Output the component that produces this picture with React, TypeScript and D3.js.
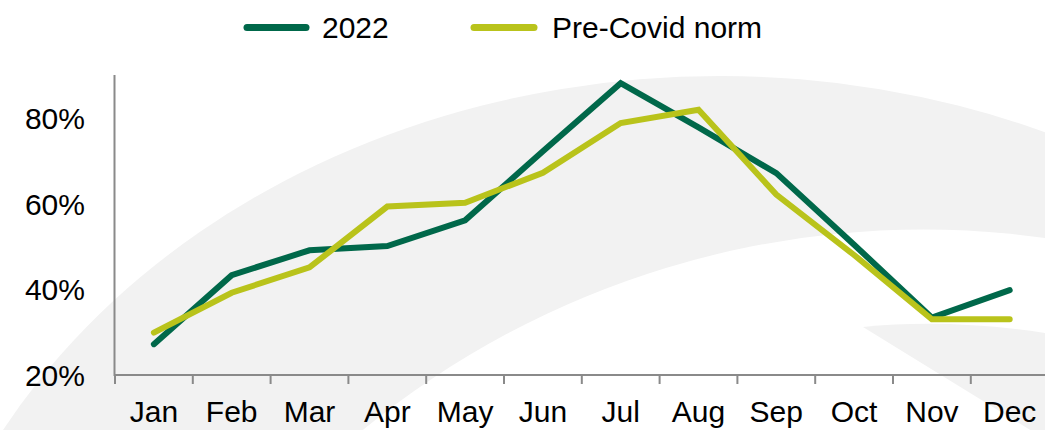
import React from "react";
import * as d3 from "d3";

const months = ["Jan", "Feb", "Mar", "Apr", "May", "Jun", "Jul", "Aug", "Sep", "Oct", "Nov", "Dec"];
const series2022 = [27.2, 43.3, 49.1, 50.1, 56.1, 72.2, 88.1, 77.8, 67.1, 50.4, 33.4, 39.8];
const seriesPreCovid = [29.9, 39.2, 45.1, 59.3, 60.2, 67.2, 78.8, 81.9, 62.1, 48.0, 33.0, 33.0];
const yTicks = [20, 40, 60, 80];
const seriesNames = ["2022", "Pre-Covid norm"];

const W = 1045;
const H = 430;
const FONT = "'Liberation Sans', Arial, sans-serif";
const GREEN = "#00684A";
const YELLOW = "#B9C31B";
const AXIS = "#8a8a8a";
const WATERMARK = "#F2F2F2";

export default function App() {
  const x = d3.scaleBand<string>().domain(months).range([115, 115 + 12 * 77.8]);
  const y = d3.scaleLinear().domain([20, 90]).range([375, 75]);

  const line = d3
    .line<number>()
    .x((_, i) => x(months[i])! + x.bandwidth() / 2)
    .y((v) => y(v));

  const tickXs = months.map((m) => x(m)!);

  const patch = d3.path();
  patch.moveTo(863, 327);
  patch.quadraticCurveTo(950, 318, 1052, 334);
  patch.lineTo(1052, 436);
  patch.lineTo(1040, 436);
  patch.closePath();

  return (
    <svg width={W} height={H} style={{ position: "absolute", left: 0, top: 0, display: "block" }}>
      <rect x={0} y={0} width={W} height={H} fill="#ffffff" />
      {/* decorative watermark */}
      <ellipse cx={720} cy={762.4} rx={819.5} ry={686.4} fill={WATERMARK} />
      <circle cx={923.6} cy={1114.4} r={884.8} fill="#ffffff" />
      <path d={patch.toString()} fill={WATERMARK} />

      {/* legend */}
      <g fontFamily={FONT} fontSize={30} fill="#000">
        <line x1={247} x2={306} y1={27.5} y2={27.5} stroke={GREEN} strokeWidth={7} strokeLinecap="round" />
        <text x={322} y={38}>{seriesNames[0]}</text>
        <line x1={474} x2={534} y1={27.5} y2={27.5} stroke={YELLOW} strokeWidth={7} strokeLinecap="round" />
        <text x={552} y={38}>{seriesNames[1]}</text>
      </g>

      {/* axes */}
      <line x1={114.5} x2={114.5} y1={75} y2={376} stroke={AXIS} strokeWidth={2} />
      <line x1={114} x2={W} y1={375} y2={375} stroke={AXIS} strokeWidth={2} />
      {tickXs.map((tx, i) => (
        <line key={i} x1={tx} x2={tx} y1={375} y2={384} stroke={AXIS} strokeWidth={2} />
      ))}

      <g fontFamily={FONT} fontSize={30} fill="#000">
        {yTicks.map((t) => (
          <text key={t} x={85} y={y(t) + 11} textAnchor="end">
            {t}%
          </text>
        ))}
        {months.map((m) => (
          <text key={m} x={x(m)! + x.bandwidth() / 2} y={422} textAnchor="middle">
            {m}
          </text>
        ))}
      </g>

      <path d={line(series2022)!} fill="none" stroke={GREEN} strokeWidth={6} strokeLinejoin="miter" strokeLinecap="round" />
      <path d={line(seriesPreCovid)!} fill="none" stroke={YELLOW} strokeWidth={6} strokeLinejoin="miter" strokeLinecap="round" />
    </svg>
  );
}
